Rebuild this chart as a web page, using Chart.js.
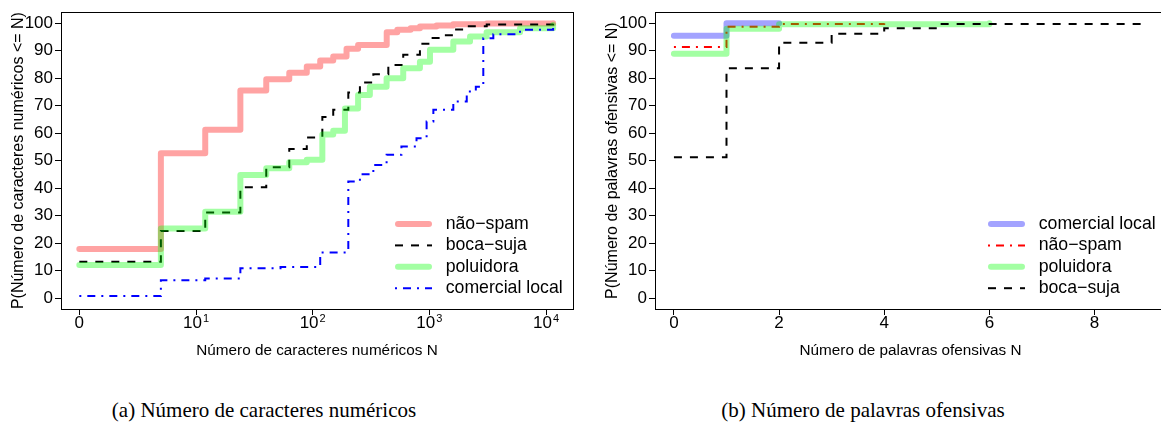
<!DOCTYPE html>
<html lang="pt-BR">
<head>
<meta charset="utf-8">
<script src="https://cdn.jsdelivr.net/npm/chart.js@4.4.1/dist/chart.umd.min.js"></script>
<style>
  html, body { margin: 0; padding: 0; background: #fff; }
  body { width: 1161px; height: 431px; position: relative; overflow: hidden; }
  canvas { position: absolute; top: 0; }
  #chartA { left: 0; }
  #chartB { left: 594px; }
  .caption {
    position: absolute; top: 398px; line-height: 24px;
    font-family: 'Liberation Serif', 'DejaVu Serif', serif; font-size: 21px;
    color: #000; white-space: nowrap; transform: translateX(-50%);
  }
</style>
</head>
<body>
<canvas id="chartA" width="580" height="370"></canvas>
<canvas id="chartB" width="580" height="370"></canvas>
<div class="caption" style="left:264px">(a) Número de caracteres numéricos</div>
<div class="caption" style="left:863px">(b) Número de palavras ofensivas</div>
<script>
// (a) caracteres numéricos: N e P(X <= N) em %
const aNaoSpamN = [0, 4, 11, 23, 39, 62, 88, 115, 149, 194, 244, 430, 530, 690, 830, 1150, 1600, 3100, 11500];
const aNaoSpamP = [17.8, 52.7, 61.2, 75.5, 79.6, 82.0, 84.2, 86.4, 87.9, 90.7, 92.1, 96.7, 97.6, 98.2, 98.8, 99.2, 99.6, 99.9, 100];
const aBocaSujaN = [0, 4, 11, 23, 39, 62, 88, 120, 149, 201, 253, 330, 444, 596, 829, 1011, 1250, 1600, 2100, 3100, 11500];
const aBocaSujaP = [13.2, 24.4, 31.1, 40.3, 47.6, 54.2, 58.4, 65.9, 68.5, 74.8, 78.4, 81.4, 84.8, 88.5, 92.5, 94.6, 95.6, 97.7, 98.9, 99.5, 99.8];
const aPoluidoraN = [0, 4, 11, 23, 39, 62, 88, 120, 149, 188, 244, 308, 429, 596, 829, 1011, 1603, 2230, 3093, 5984, 11500];
const aPoluidoraP = [12.0, 25.3, 31.4, 44.8, 47.2, 49.4, 50.3, 59.5, 60.9, 69.0, 73.9, 76.9, 80.0, 83.6, 86.0, 90.3, 93.3, 95.2, 96.7, 98.2, 99.3];
const aComercialN = [0, 4, 11, 23, 52, 115, 201, 253, 330, 429, 575, 775, 946, 1081, 1603, 2090, 2500, 2898, 3532, 5984, 11500];
const aComercialP = [0.7, 6.5, 7.1, 10.8, 11.3, 16.6, 42.4, 45.0, 48.4, 52.1, 55.1, 58.1, 64.2, 68.5, 71.5, 75.1, 76.9, 94.5, 96.0, 97.6, 98.4];
// posição no eixo (décadas) e rótulo: base + expoente
const aTickPos = [0, 1, 2, 3, 4];
const aTickBase = ['0', '10', '10', '10', '10'];
const aTickExp = ['', '1', '2', '3', '4'];

// (b) palavras ofensivas
const bComercialN = [0, 1, 2];
const bComercialP = [95.4, 100, 100];
const bNaoSpamN = [0, 1, 2, 4];
const bNaoSpamP = [91.3, 98.7, 99.7, 100];
const bPoluidoraN = [0, 1, 2, 6];
const bPoluidoraP = [88.9, 98.0, 99.6, 100];
const bBocaSujaN = [0, 1, 2, 3, 4, 5, 9];
const bBocaSujaP = [51.2, 83.6, 92.9, 96.2, 98.2, 99.7, 100];
const bTickPos = [0, 2, 4, 6, 8];
const bTickBase = ['0', '2', '4', '6', '8'];
const bTickExp = ['', '', '', '', ''];

const yTickPos = [0, 10, 20, 30, 40, 50, 60, 70, 80, 90, 100];

const FONT = "'Liberation Sans', Arial, Helvetica, sans-serif";
Chart.defaults.font.family = FONT;
Chart.defaults.color = '#000';

const logPos = n => Math.log10(n + 1);
const same = n => n;
const toPoints = (ns, ps, fx) => ns.map((n, i) => ({ x: fx(n), y: ps[i] }));

// estilos das linhas (parecidos com os do R)
const thick = c => ({ borderColor: c, borderWidth: 6, borderCapStyle: 'round', borderJoinStyle: 'round' });
const dashed = c => ({ borderColor: c, borderWidth: 2, borderDash: [8, 8] });
const dotDash = c => ({ borderColor: c, borderWidth: 2, borderDash: [2, 6, 8, 6] });

function serie(label, ns, ps, fx, style, order) {
  return {
    label,
    data: toPoints(ns, ps, fx),
    stepped: 'before',
    pointRadius: 0,
    fill: false,
    order,
    ...style
  };
}

// caixa do gráfico, rótulos do eixo x (com expoente) e legenda dentro da área
const boxAndLegend = {
  id: 'boxAndLegend',
  afterDraw(chart, args, opts) {
    const { ctx, chartArea: a } = chart;
    const xs = chart.scales.x;
    ctx.save();
    ctx.strokeStyle = '#000';
    ctx.lineWidth = 1;
    const l = Math.round(a.left) + 0.5, t = Math.round(a.top) + 0.5;
    const r = Math.round(a.right) + 0.5, b = Math.round(a.bottom) + 0.5;
    ctx.strokeRect(l, t, r - l, b - t);

    // rótulos do eixo x
    ctx.fillStyle = '#000';
    ctx.textBaseline = 'middle';
    ctx.textAlign = 'left';
    const yLab = a.bottom + 14.7;
    opts.tickPos.forEach((v, i) => {
      const px = xs.getPixelForValue(v);
      ctx.font = '17px ' + FONT;
      const wBase = ctx.measureText(opts.tickBase[i]).width;
      ctx.font = '11px ' + FONT;
      const wExp = opts.tickExp[i] ? ctx.measureText(opts.tickExp[i]).width + 1 : 0;
      const x0 = px - (wBase + wExp) / 2;
      ctx.font = '17px ' + FONT;
      ctx.fillText(opts.tickBase[i], x0, yLab);
      if (wExp) {
        ctx.font = '11px ' + FONT;
        ctx.fillText(opts.tickExp[i], x0 + wBase + 1, yLab - 5);
      }
    });

    // legenda
    ctx.font = '17.7px ' + FONT;
    chart.data.datasets.forEach((ds, i) => {
      const y = a.bottom - 85 + i * 21.4;
      const round = ds.borderCapStyle === 'round';
      const x0 = a.right - 178 + (round ? 3 : 0);
      const x1 = a.right - 141 - (round ? 3 : 0);
      ctx.save();
      ctx.strokeStyle = ds.borderColor;
      ctx.lineWidth = ds.borderWidth;
      ctx.lineCap = ds.borderCapStyle || 'butt';
      ctx.setLineDash(ds.borderDash || []);
      ctx.beginPath();
      ctx.moveTo(x0, y);
      ctx.lineTo(x1, y);
      ctx.stroke();
      ctx.restore();
      ctx.fillText(ds.label, a.right - 127.3, y);
    });
    ctx.restore();
  }
};

function scalesFor(xMin, xMax, xTicks, xTitle, yTitle) {
  return {
    x: {
      type: 'linear',
      min: xMin,
      max: xMax,
      afterBuildTicks: s => { s.ticks = xTicks.map(v => ({ value: v })); },
      afterFit: s => { s.height = 61; },
      ticks: { display: false, autoSkip: false },
      grid: { drawOnChartArea: false, drawTicks: true, tickLength: 6, color: '#000' },
      border: { display: false },
      title: { display: true, text: xTitle, font: { size: 15.3 }, padding: { top: 0, bottom: 9.8 } }
    },
    y: {
      type: 'linear',
      min: -4,
      max: 104,
      afterBuildTicks: s => { s.ticks = yTickPos.map(v => ({ value: v })); },
      afterFit: s => { s.width = 61; },
      ticks: { font: { size: 17 }, padding: 2, autoSkip: false },
      grid: { drawOnChartArea: false, drawTicks: true, tickLength: 6, color: '#000' },
      border: { display: false },
      title: { display: true, text: yTitle, font: { size: 16 }, padding: { top: 9.4, bottom: 0 } }
    }
  };
}

const basePlugins = { legend: { display: false }, tooltip: { enabled: false } };

// (a) Número de caracteres numéricos
new Chart(document.getElementById('chartA'), {
  type: 'line',
  data: {
    datasets: [
      serie('não−spam', aNaoSpamN, aNaoSpamP, logPos, thick('rgba(255, 0, 0, 0.36)'), 4),
      serie('boca−suja', aBocaSujaN, aBocaSujaP, logPos, dashed('#000000'), 3),
      serie('poluidora', aPoluidoraN, aPoluidoraP, logPos, thick('rgba(0, 255, 0, 0.36)'), 2),
      serie('comercial local', aComercialN, aComercialP, logPos, dotDash('#0000ff'), 1)
    ]
  },
  options: {
    responsive: false,
    animation: false,
    devicePixelRatio: 1,
    layout: { padding: { top: 12, right: 7, bottom: 0, left: 0 } },
    plugins: { ...basePlugins, boxAndLegend: { tickPos: aTickPos, tickBase: aTickBase, tickExp: aTickExp } },
    scales: scalesFor(-0.157, 4.231, aTickPos,
      'Número de caracteres numéricos N', 'P(Número de caracteres numéricos <= N)')
  },
  plugins: [boxAndLegend]
});

// (b) Número de palavras ofensivas
new Chart(document.getElementById('chartB'), {
  type: 'line',
  data: {
    datasets: [
      serie('comercial local', bComercialN, bComercialP, same, thick('rgba(0, 0, 255, 0.36)'), 4),
      serie('não−spam', bNaoSpamN, bNaoSpamP, same, dotDash('#ff0000'), 3),
      serie('poluidora', bPoluidoraN, bPoluidoraP, same, thick('rgba(0, 255, 0, 0.36)'), 2),
      serie('boca−suja', bBocaSujaN, bBocaSujaP, same, dashed('#000000'), 1)
    ]
  },
  options: {
    responsive: false,
    animation: false,
    devicePixelRatio: 1,
    layout: { padding: { top: 12, right: 8, bottom: 0, left: 0 } },
    plugins: { ...basePlugins, boxAndLegend: { tickPos: bTickPos, tickBase: bTickBase, tickExp: bTickExp } },
    scales: scalesFor(-0.36, 9.36, bTickPos,
      'Número de palavras ofensivas N', 'P(Número de palavras ofensivas <= N)')
  },
  plugins: [boxAndLegend]
});
</script>
</body>
</html>
